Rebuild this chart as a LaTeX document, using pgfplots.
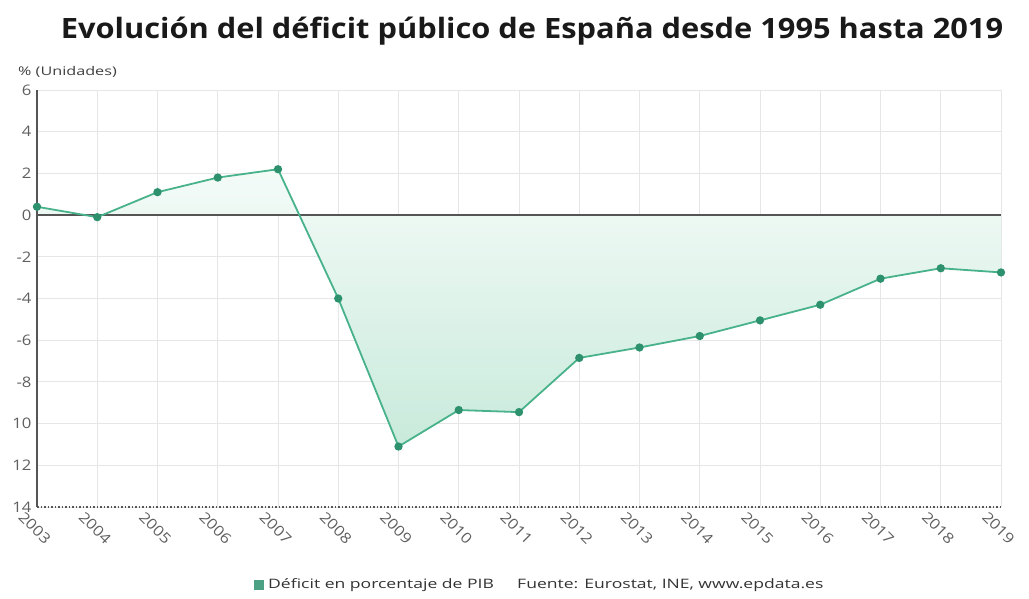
\documentclass[border=0pt]{standalone}
\usepackage{pgfplots}
\pgfplotsset{compat=1.18}
\usepackage{fontspec}
\setmainfont{Open Sans}
\newfontfamily\titlefont[FakeStretch=1.1]{Open Sans}
\newfontfamily\widefont[FakeStretch=1.35]{Open Sans}
\newfontfamily\tickfont[FakeStretch=1.15]{Open Sans}
\definecolor{lineg}{RGB}{72,178,138}
\definecolor{markg}{RGB}{45,145,110}
\definecolor{fillb}{RGB}{200,234,219}
\definecolor{fillt}{RGB}{244,251,248}
\definecolor{axgray}{RGB}{85,85,85}
\definecolor{tickgray}{RGB}{95,95,95}
\definecolor{gridc}{RGB}{230,230,230}
\begin{document}
\begin{tikzpicture}[x=1pt,y=1pt]
\path[use as bounding box] (0,0) rectangle (1029,599);
\begin{axis}[
  at={(37pt,92pt)}, anchor=south west,
  scale only axis, width=964pt, height=417pt,
  xmin=2003, xmax=2019, ymin=-14, ymax=6,
  xtick={2003,...,2019},
  ytick={-14,-12,...,6},
  yticklabels={14,12,10,-8,-6,-4,-2,0,2,4,6},
  xticklabel={\pgfmathprintnumber[1000 sep={}]{\tick}},
  x tick label style={rotate=-45, anchor=north west, font=\tickfont\fontsize{14.5}{16}\selectfont, text=tickgray, xshift=-7pt, yshift=-10pt, inner sep=1pt},
  y tick label style={font=\tickfont\fontsize{14.5}{16}\selectfont, text=tickgray, xshift=-2pt},
  /pgf/number format/assume math mode=true,
  grid=major,
  major grid style={gridc, line width=0.8pt},
  axis line style={draw=none},
  axis x line*=bottom, axis y line*=left,
  tick style={draw=none},
  clip=false,
]
\addplot[draw=none, top color=fillt, bottom color=fillb, shading angle=0] coordinates {
(2003,0)(2003,0.4)(2004,-0.1)(2005,1.1)(2006,1.8)(2007,2.2)(2008,-4.0)(2009,-11.1)(2010,-9.35)(2011,-9.45)(2012,-6.85)(2013,-6.35)(2014,-5.8)(2015,-5.05)(2016,-4.3)(2017,-3.05)(2018,-2.55)(2019,-2.75)(2019,0)} -- cycle;
\draw[axgray, line width=1.3pt] (axis cs:2003,0) -- (axis cs:2019,0);
\draw[axgray, line width=1.8pt] (axis cs:2003,-14) -- (axis cs:2003,6);
\draw[axgray, line width=1.5pt, dotted] (axis cs:2003,-14) -- (axis cs:2019,-14);
\addplot[lineg, line width=1.8pt, mark=*, mark size=3.2pt, mark options={fill=markg, draw=markg}] coordinates {
(2003,0.4)(2004,-0.1)(2005,1.1)(2006,1.8)(2007,2.2)(2008,-4.0)(2009,-11.1)(2010,-9.35)(2011,-9.45)(2012,-6.85)(2013,-6.35)(2014,-5.8)(2015,-5.05)(2016,-4.3)(2017,-3.05)(2018,-2.55)(2019,-2.75)};
\end{axis}
\node[anchor=center, font=\titlefont\fontsize{28}{32}\selectfont\bfseries, text=black!90] at (532,568) {Evolución del déficit público de España desde 1995 hasta 2019};
\node[anchor=west, font=\widefont\fontsize{12}{14}\selectfont, text=black!75, inner sep=0pt] at (18,527) {\% (Unidades)};
\fill[markg!85] (254,9) rectangle (264,19);
\node[anchor=west, font=\widefont\fontsize{13}{15}\selectfont, text=black!80, inner sep=0pt] at (268,14) {Déficit en porcentaje de PIB};
\node[anchor=west, font=\widefont\fontsize{13}{15}\selectfont, text=black!80, inner sep=0pt] at (517,14) {Fuente: Eurostat, INE, www.epdata.es};
\end{tikzpicture}
\end{document}
